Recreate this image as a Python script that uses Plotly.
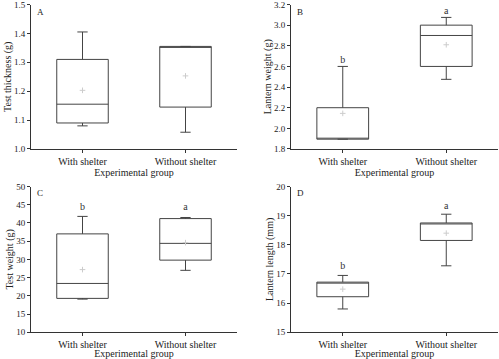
import plotly.graph_objects as go
from plotly.subplots import make_subplots

groups = ["With shelter", "Without shelter"]

# Panel A: Test thickness (g)
a_q1 = [1.09, 1.145]
a_med = [1.155, 1.355]
a_q3 = [1.31, 1.355]
a_low = [1.08, 1.058]
a_up = [1.405, 1.355]
a_mean = [1.203, 1.253]
a_ticks = [1.0, 1.1, 1.2, 1.3, 1.4, 1.5]

# Panel B: Lantern weight (g)
b_q1 = [1.895, 2.6]
b_med = [1.895, 2.9]
b_q3 = [2.2, 3.0]
b_low = [1.895, 2.475]
b_up = [2.6, 3.075]
b_mean = [2.145, 2.81]
b_letters = ["b", "a"]
b_letter_y = [2.66, 3.13]
b_ticks = [1.8, 2.0, 2.2, 2.4, 2.6, 2.8, 3.0, 3.2]

# Panel C: Test weight (g)
c_q1 = [19.3, 29.8]
c_med = [23.4, 34.4]
c_q3 = [37.0, 41.2]
c_low = [19.1, 27.0]
c_up = [41.8, 41.5]
c_mean = [27.2, 34.6]
c_letters = ["b", "a"]
c_letter_y = [44.3, 44.3]
c_ticks = [10, 15, 20, 25, 30, 35, 40, 45, 50]

# Panel D: Lantern length (mm)
d_q1 = [16.22, 18.15]
d_med = [16.72, 18.75]
d_q3 = [16.72, 18.75]
d_low = [15.8, 17.28]
d_up = [16.95, 19.05]
d_mean = [16.48, 18.4]
d_letters = ["b", "a"]
d_letter_y = [17.25, 19.3]
d_ticks = [15, 16, 17, 18, 19, 20]

panels = [
    dict(q1=a_q1, med=a_med, q3=a_q3, low=a_low, up=a_up, mean=a_mean,
         letters=None, ly=None, title="Test thickness (g)", tag="A",
         rng=[1.0, 1.5], ticks=a_ticks, fmt=".1f", row=1, col=1),
    dict(q1=b_q1, med=b_med, q3=b_q3, low=b_low, up=b_up, mean=b_mean,
         letters=b_letters, ly=b_letter_y, title="Lantern weight (g)", tag="B",
         rng=[1.8, 3.2], ticks=b_ticks, fmt=".1f", row=1, col=2),
    dict(q1=c_q1, med=c_med, q3=c_q3, low=c_low, up=c_up, mean=c_mean,
         letters=c_letters, ly=c_letter_y, title="Test weight (g)", tag="C",
         rng=[10, 50], ticks=c_ticks, fmt="d", row=2, col=1),
    dict(q1=d_q1, med=d_med, q3=d_q3, low=d_low, up=d_up, mean=d_mean,
         letters=d_letters, ly=d_letter_y, title="Lantern length (mm)", tag="D",
         rng=[15, 20], ticks=d_ticks, fmt="d", row=2, col=2),
]

FONT = "Liberation Serif, Times New Roman, serif"
AX = "#333333"
TXT = "#222222"

fig = make_subplots(rows=2, cols=2)

for p in panels:
    fig.add_trace(go.Box(
        x=groups, q1=p["q1"], median=p["med"], q3=p["q3"],
        lowerfence=p["low"], upperfence=p["up"],
        fillcolor="rgba(0,0,0,0)", line=dict(color="#444444", width=1),
        width=0.5, whiskerwidth=0.2, boxpoints=False, showlegend=False,
        hoverinfo="skip"), row=p["row"], col=p["col"])
    fig.add_trace(go.Scatter(
        x=groups, y=p["mean"], mode="markers",
        marker=dict(symbol="cross-thin", size=4,
                    line=dict(color="#cccccc", width=1)),
        showlegend=False, hoverinfo="skip"), row=p["row"], col=p["col"])
    if p["letters"]:
        fig.add_trace(go.Scatter(
            x=groups, y=p["ly"], mode="text", text=p["letters"],
            textfont=dict(family=FONT, size=10, color="#333333"),
            showlegend=False, hoverinfo="skip"), row=p["row"], col=p["col"])

xdom = {1: [31 / 499, 237 / 499], 2: [291 / 499, 498 / 499]}
ydom = {1: [(359 - 149) / 359, (359 - 4.5) / 359],
        2: [(359 - 332.3) / 359, (359 - 186.5) / 359]}

for i, p in enumerate(panels):
    r, c = p["row"], p["col"]
    span = p["rng"][1] - p["rng"][0]
    rng = [p["rng"][0] - span * 1e-4, p["rng"][1] + span * 1e-4]
    fig.update_xaxes(row=r, col=c, domain=xdom[c], range=[-0.5, 1.5],
                     automargin=False,
                     showline=True, linecolor=AX, linewidth=1, ticks="outside",
                     ticklen=3, tickcolor=AX, showgrid=False, zeroline=False,
                     tickfont=dict(family=FONT, size=10, color=TXT),
                     title=dict(text="Experimental group", standoff=0,
                                font=dict(family=FONT, size=10, color=TXT)))
    fig.update_yaxes(row=r, col=c, domain=ydom[r], range=rng,
                     automargin=False, tickmode="array", tickvals=p["ticks"],
                     ticktext=[format(v, p["fmt"]) for v in p["ticks"]],
                     ticklabeloverflow="allow",
                     showline=True, linecolor=AX, linewidth=1, ticks="outside",
                     ticklen=3, tickcolor=AX, showgrid=False, zeroline=False,
                     tickfont=dict(family=FONT, size=9, color=TXT),
                     title=dict(text=p["title"], standoff=0,
                                font=dict(family=FONT, size=10, color=TXT)))
    fig.add_annotation(xref="x domain" if i == 0 else f"x{i+1} domain",
                       yref="y domain" if i == 0 else f"y{i+1} domain",
                       x=0.02, y=1.0, xanchor="left", yanchor="top",
                       text=p["tag"], showarrow=False,
                       font=dict(family=FONT, size=9, color=TXT))

fig.update_layout(width=499, height=359, margin=dict(l=0, r=0, t=0, b=0),
                  paper_bgcolor="white", plot_bgcolor="white",
                  font=dict(family=FONT, size=10, color=TXT))

fig.write_html("out.html", config={"displayModeBar": False},
               post_script="document.body.style.margin='0';"
                           "document.body.style.padding='0';")
